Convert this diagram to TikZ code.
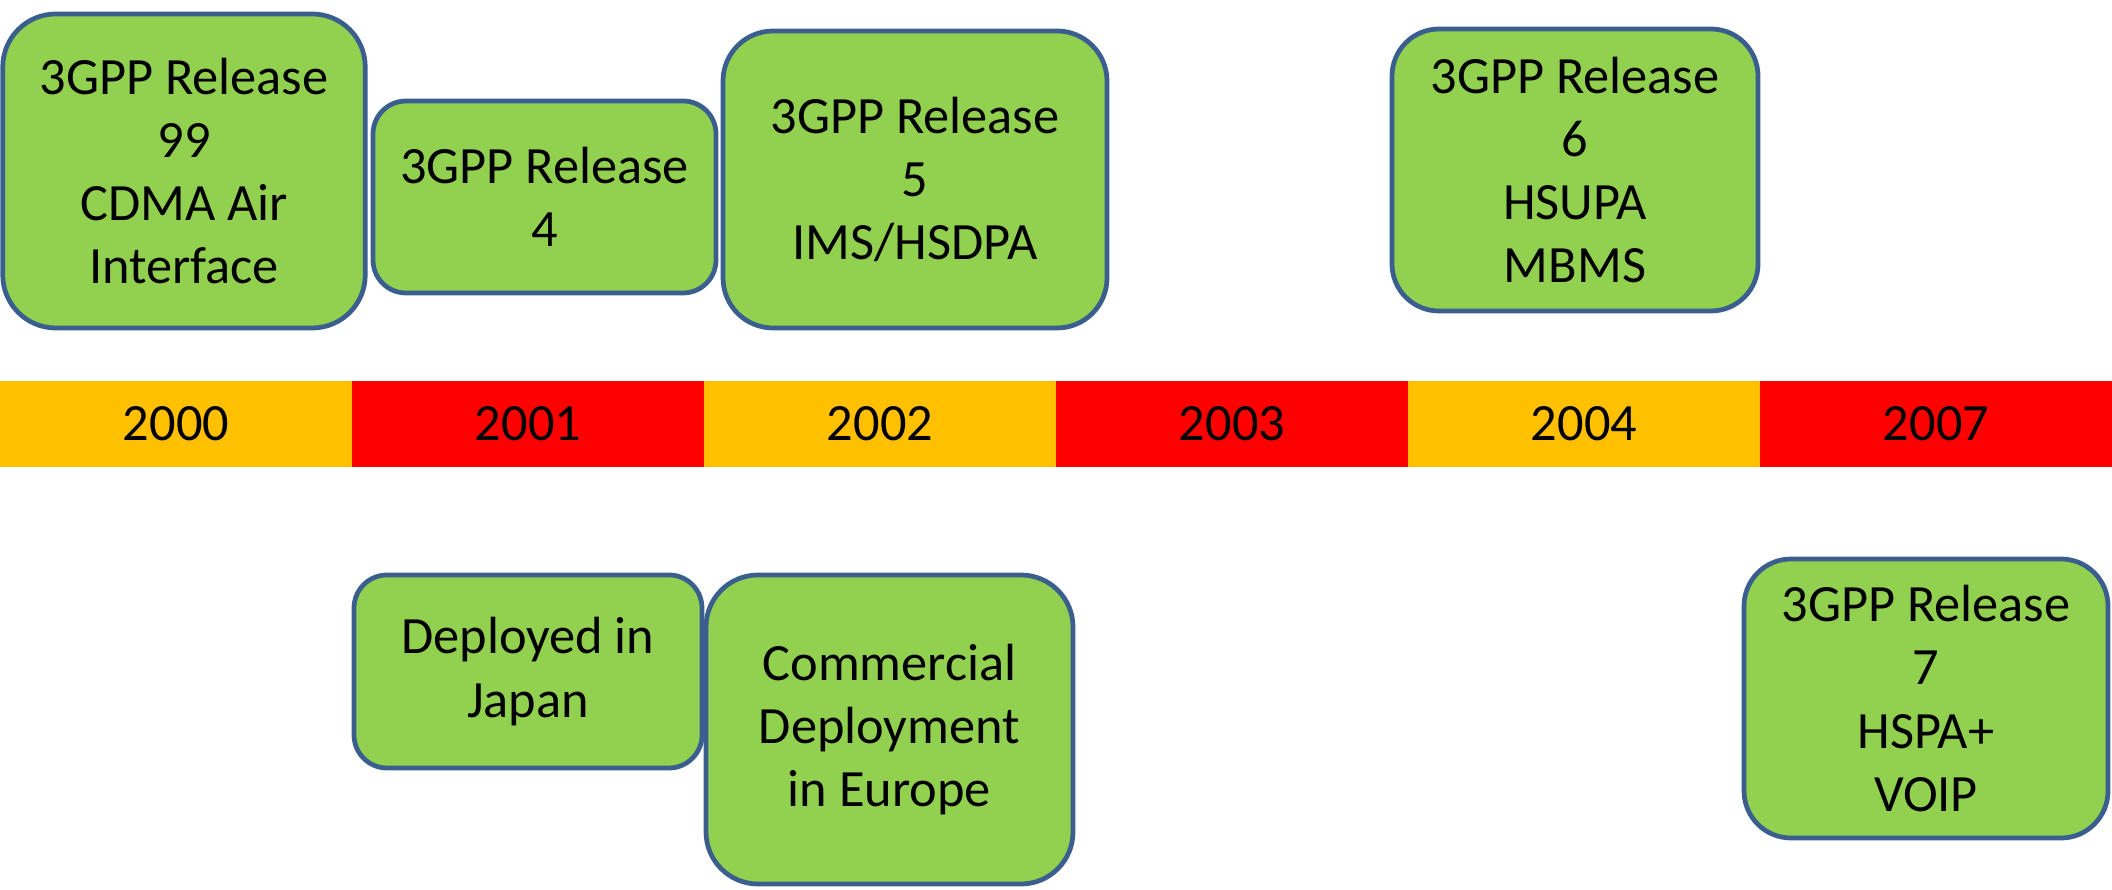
\documentclass[tikz,border=0pt]{standalone}
\usepackage{fontspec}
\setmainfont{Carlito}
\usepackage{tikz}
\usetikzlibrary{positioning}
\definecolor{relgreen}{HTML}{92D050}
\definecolor{relblue}{HTML}{3A5F8F}
\definecolor{yrorange}{HTML}{FFC000}
\definecolor{yrred}{HTML}{FF0000}
\tikzset{gb/.style={draw=relblue,fill=relgreen,line width=2.7pt,rectangle,
inner sep=0pt,align=center,text=black},
yb/.style={rectangle,minimum width=7.04cm,minimum height=1.72cm,inner
sep=0pt,outer sep=0pt,text=black}}

\begin{document}
\begin{tikzpicture}[font=\fontsize{29.8pt}{35.9pt}\selectfont]
		\useasboundingbox (0,0) rectangle (42.24,17.78);
		\node[yb,fill=yrorange] (y2000) at (3.52,9.30) {2000};
		\node[yb,fill=yrred,right=0pt of y2000] (y2001) {2001};
		\node[yb,fill=yrorange,right=0pt of y2001] (y2002) {2002};
		\node[yb,fill=yrred,right=0pt of y2002] (y2003) {2003};
		\node[yb,fill=yrorange,right=0pt of y2003] (y2004) {2004};
		\node[yb,fill=yrred,right=0pt of y2004] (y2007) {2007};
		\node[gb,minimum width=7.25cm,minimum height=6.28cm,rounded corners=1.06cm]
			(r99) at (3.68,14.36) {3GPP Release\\99\\CDMA Air\\Interface};
		\node[gb,minimum width=6.86cm,minimum height=3.84cm,rounded corners=0.66cm]
			(r4) at (10.89,13.84) {3GPP Release\\4};
		\node[gb,minimum width=7.68cm,minimum height=5.94cm,rounded corners=1.0cm]
			(r5) at (18.30,14.19) {3GPP Release\\5\\IMS/HSDPA};
		\node[gb,minimum width=7.32cm,minimum height=5.64cm,rounded corners=0.94cm]
			(r6) at (31.5,14.38) {3GPP Release\\6\\HSUPA\\MBMS};
		\node[gb,minimum width=6.96cm,minimum height=3.86cm,rounded corners=0.66cm]
			(jp) at (10.56,4.35) {Deployed in\\Japan};
		\node[gb,minimum width=7.34cm,minimum height=6.18cm,rounded corners=1.04cm]
			(eu) at (17.79,3.19) {Commercial\\Deployment\\in Europe};
		\node[gb,minimum width=7.28cm,minimum height=5.58cm,rounded corners=0.94cm]
			(r7) at (38.52,3.81) {3GPP Release\\7\\HSPA+\\VOIP};
	\end{tikzpicture}
\end{document}
